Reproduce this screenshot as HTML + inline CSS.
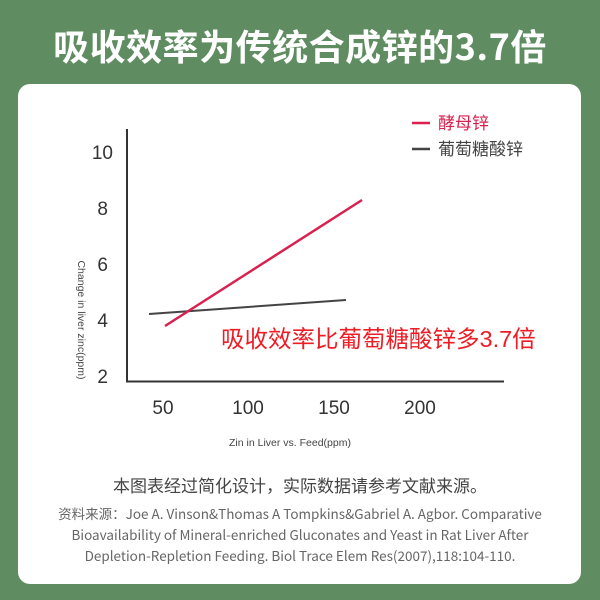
<!DOCTYPE html>
<html><head><meta charset="utf-8"><style>
body{margin:0;width:600px;height:600px;background:#5f8d61;overflow:hidden;font-family:"Liberation Sans","Noto Sans CJK SC",sans-serif;position:relative}
.title{position:absolute;left:0;width:600px;top:19px;text-align:center;color:#fff;font-size:36px;font-weight:bold;font-family:"Noto Sans CJK SC",sans-serif;letter-spacing:0.5px}
.card{position:absolute;left:18px;top:84px;width:563px;height:500px;background:#fff;border-radius:12px}
.n1{position:absolute;left:0;width:600px;top:472px;text-align:center;color:#444;font-size:17px;font-family:"Noto Sans CJK SC",sans-serif}
.n2{position:absolute;left:0;width:600px;top:503px;text-align:center;color:#666;font-size:13.5px;line-height:21px;font-family:"Noto Sans CJK SC",sans-serif}
</style></head><body>
<div class="title">吸收效率为传统合成锌的3.7倍</div>
<div class="card"></div>
<svg style="position:absolute;left:0;top:0" width="600" height="600">
<g font-family="Liberation Sans, sans-serif" fill="#333" font-size="19">
<text x="113" y="159" text-anchor="end">10</text>
<text x="108" y="215" text-anchor="end">8</text>
<text x="108" y="271" text-anchor="end">6</text>
<text x="108" y="327" text-anchor="end">4</text>
<text x="108" y="383" text-anchor="end">2</text>
<text x="163" y="414" text-anchor="middle">50</text>
<text x="248" y="414" text-anchor="middle">100</text>
<text x="334" y="414" text-anchor="middle">150</text>
<text x="420" y="414" text-anchor="middle">200</text>
</g>
<text x="290" y="446" text-anchor="middle" font-size="10.5" fill="#444" font-family="Liberation Sans, sans-serif">Zin in Liver vs. Feed(ppm)</text>
<text transform="translate(78,320) rotate(90)" text-anchor="middle" font-size="10.5" fill="#444" font-family="Liberation Sans, sans-serif">Change in liver zinc(ppm)</text>
<path d="M127 129 V381.5 H504" fill="none" stroke="#333" stroke-width="2"/>
<line x1="149" y1="314" x2="346" y2="300" stroke="#444" stroke-width="2"/>
<line x1="165" y1="326" x2="362" y2="200" stroke="#d9204e" stroke-width="2.5"/>
<line x1="412" y1="123" x2="430" y2="123" stroke="#d9204e" stroke-width="2.5"/>
<line x1="412" y1="149" x2="430" y2="149" stroke="#444" stroke-width="2.5"/>
<g font-family="Noto Sans CJK SC, sans-serif" font-size="17">
<text x="438" y="129" fill="#d9204e">酵母锌</text>
<text x="438" y="155" fill="#444">葡萄糖酸锌</text>
</g>
<text x="221" y="347" font-family="Liberation Sans, Noto Sans CJK SC, sans-serif" font-size="23.5" fill="#ee1c25">吸收效率比葡萄糖酸锌多3.7倍</text>
</svg>
<div class="n1">本图表经过简化设计，实际数据请参考文献来源。</div>
<div class="n2">资料来源：Joe A. Vinson&amp;Thomas A Tompkins&amp;Gabriel A. Agbor. Comparative<br>Bioavailability of Mineral-enriched Gluconates and Yeast in Rat Liver After<br>Depletion-Repletion Feeding. Biol Trace Elem Res(2007),118:104-110.</div>
</body></html>
